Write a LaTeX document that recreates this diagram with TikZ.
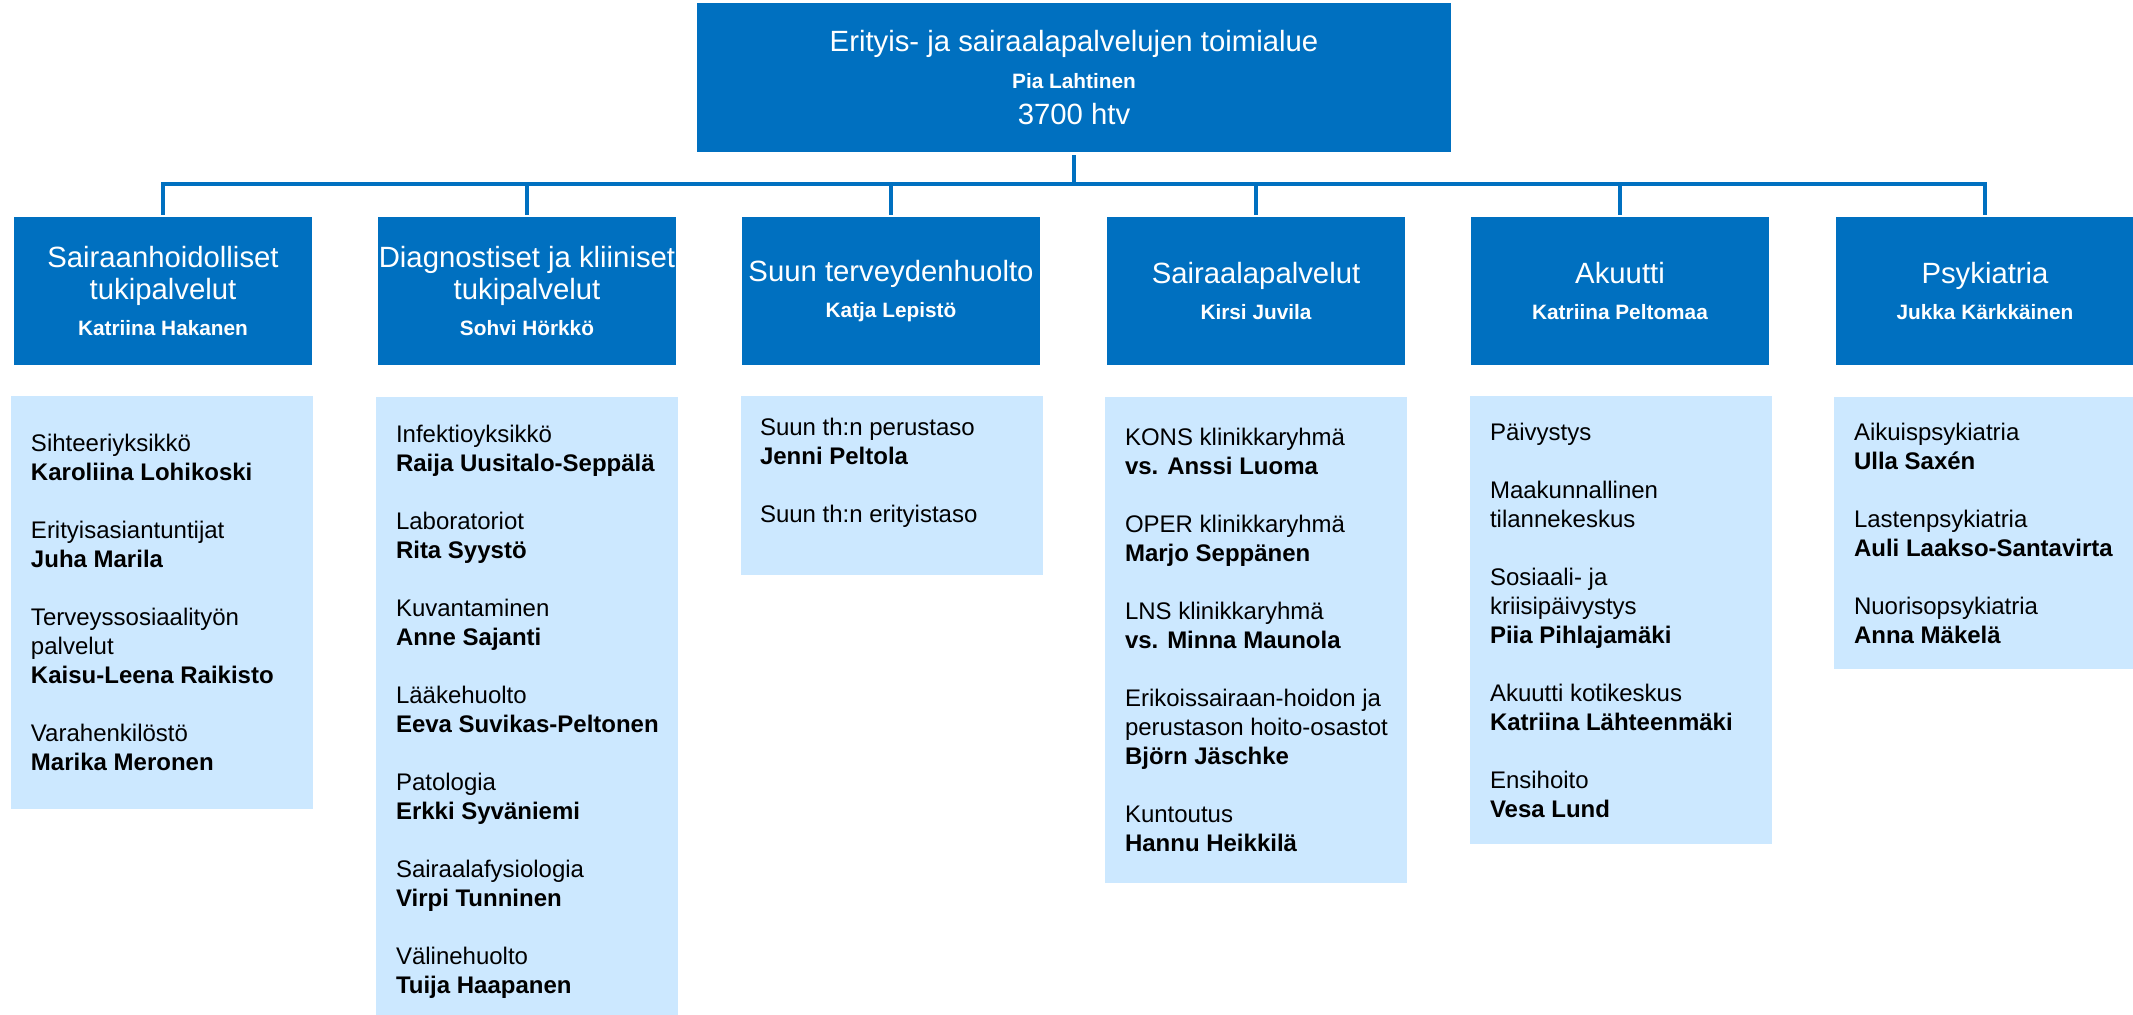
\documentclass[tikz,border=0pt]{standalone}
\usepackage{fontspec}
\setmainfont{Liberation Sans}
\definecolor{ablue}{RGB}{0,112,192}
\definecolor{lblue}{RGB}{204,232,255}
\newcommand{\hname}[1]{{\fontsize{10.4pt}{12pt}\selectfont\bfseries #1}}
\begin{document}
\begin{tikzpicture}[x=0.5pt,y=-0.5pt,
  head/.style={fill=ablue,text=white,inner sep=0pt,align=center,font=\fontsize{14.65pt}{16pt}\selectfont},
  unit/.style={head,minimum width=149pt,minimum height=74pt},
  panel/.style={fill=lblue,inner sep=0pt,minimum width=151pt},
  items/.style={anchor=west,align=left,inner sep=0pt,text=black,font=\fontsize{12pt}{14.5pt}\selectfont},
  conn/.style={draw=ablue,line width=1.6pt}]
\useasboundingbox (0,0) rectangle (2133,1014);

\node[head,minimum width=377pt,minimum height=74.5pt] (top) at (1074,77.5)
  {Erityis- ja sairaalapalvelujen toimialue\\[2.6pt]\hname{Pia Lahtinen}\\[1.9pt]3700 htv};

\node[unit] (h1) at (163,291) {Sairaanhoidolliset\\tukipalvelut\\[1.6pt]\hname{Katriina Hakanen}};
\node[unit] (h2) at (527,291) {Diagnostiset ja kliiniset\\tukipalvelut\\[1.6pt]\hname{Sohvi Hörkkö}};
\node[unit] (h3) at (891,291) {Suun terveydenhuolto\\[1.6pt]\hname{Katja Lepistö}};
\node[unit] (h4) at (1256,291) {Sairaalapalvelut\\[1.6pt]\hname{Kirsi Juvila}};
\node[unit] (h5) at (1620,291) {Akuutti\\[1.6pt]\hname{Katriina Peltomaa}};
\node[unit] (h6) at (1985,291) {Psykiatria\\[1.6pt]\hname{Jukka Kärkkäinen}};

\coordinate (j) at (1074,184);
\draw[conn] ([yshift=-1.5pt]top.south) -- (j);
\draw[conn] ([yshift=1pt]h1.north) |- (j) -| ([yshift=1pt]h6.north);
\foreach \n in {2,...,5} \draw[conn] ([yshift=1pt]h\n.north) -- (h\n.north |- j);

\node[panel,minimum height=206.5pt] (p1) at (162,602.5) {};
\node[items] (t1) at ([xshift=10pt]p1.west) {Sihteeriyksikkö\\\textbf{Karoliina Lohikoski}\\[14.5pt]Erityisasiantuntijat\\\textbf{Juha Marila}\\[14.5pt]Terveyssosiaalityön\\palvelut\\\textbf{Kaisu-Leena Raikisto}\\[14.5pt]Varahenkilöstö\\\textbf{Marika Meronen}};

\node[panel,minimum height=314.5pt] (p2) at (527,711.5) {};
\node[items] (t2) at ([xshift=10pt]p2.west) {Infektioyksikkö\\\textbf{Raija Uusitalo-Seppälä}\\[14.5pt]Laboratoriot\\\textbf{Rita Syystö}\\[14.5pt]Kuvantaminen\\\textbf{Anne Sajanti}\\[14.5pt]Lääkehuolto\\\textbf{Eeva Suvikas-Peltonen}\\[14.5pt]Patologia\\\textbf{Erkki Syväniemi}\\[14.5pt]Sairaalafysiologia\\\textbf{Virpi Tunninen}\\[14.5pt]Välinehuolto\\\textbf{Tuija Haapanen}};

\node[panel,minimum height=89.5pt] (p3) at (892,485.5) {};
\node[items] (t3) at ([shift={(19,-12.5)}]p3.west) {Suun th:n perustaso\\\textbf{Jenni Peltola}\\[14.5pt]Suun th:n erityistaso};

\node[panel,minimum height=243pt] (p4) at (1256,640) {};
\node[items] (t4) at ([xshift=10pt]p4.west) {KONS klinikkaryhmä\\\textbf{vs. Anssi Luoma}\\[14.5pt]OPER klinikkaryhmä\\\textbf{Marjo Seppänen}\\[14.5pt]LNS klinikkaryhmä\\\textbf{vs. Minna Maunola}\\[14.5pt]Erikoissairaan-hoidon ja\\perustason hoito-osastot\\\textbf{Björn Jäschke}\\[14.5pt]Kuntoutus\\\textbf{Hannu Heikkilä}};

\node[panel,minimum height=224pt] (p5) at (1621,620) {};
\node[items] (t5) at ([xshift=10pt]p5.west) {Päivystys\\[14.5pt]Maakunnallinen\\tilannekeskus\\[14.5pt]Sosiaali- ja\\kriisipäivystys\\\textbf{Piia Pihlajamäki}\\[14.5pt]Akuutti kotikeskus\\\textbf{Katriina Lähteenmäki}\\[14.5pt]Ensihoito\\\textbf{Vesa Lund}};

\node[panel,minimum height=136pt] (p6) at (1985,533) {};
\node[items] (t6) at ([xshift=10pt]p6.west) {Aikuispsykiatria\\\textbf{Ulla Saxén}\\[14.5pt]Lastenpsykiatria\\\textbf{Auli Laakso-Santavirta}\\[14.5pt]Nuorisopsykiatria\\\textbf{Anna Mäkelä}};
\end{tikzpicture}
\end{document}
